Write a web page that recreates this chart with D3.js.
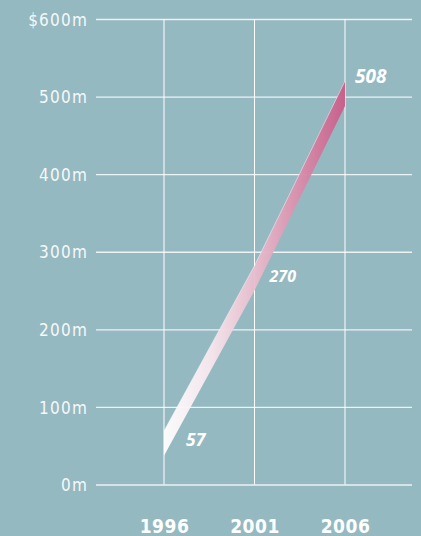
<!DOCTYPE html>
<html>
<head>
<meta charset="utf-8">
<script src="https://cdn.jsdelivr.net/npm/d3@7"></script>
<style>
  html, body { margin: 0; padding: 0; background: #95b9c1; }
  svg { display: block; }
</style>
</head>
<body>
<svg id="chart" width="421" height="536"></svg>
<script>
// Revenue, in $ millions
const years = [1996, 2001, 2006];
const revenue = [57, 270, 508];
const yearLabels = ["1996", "2001", "2006"];
const yTicks = [0, 100, 200, 300, 400, 500, 600];
const yTickLabels = ["0m", "100m", "200m", "300m", "400m", "500m", "$600m"];

// Layout and styling
const W = 421, H = 536;
const plot = { left: 96, right: 412, top: 19, bottom: 484.5 };
const yearPos = { start: 164, end: 345 };
const ribbon = { above: 12, below: 20 };   // ribbon thickness around the value, in $m
const valueLabelStyle = [
  { dx: 22, dy: 6, size: 17.5 },
  { dx: 15, dy: 7, size: 16 },
  { dx: 10, dy: -7, size: 19 }
];
const grid = "#edf2f3";

const svg = d3.select("#chart");

const x = d3.scaleLinear().domain(d3.extent(years)).range([yearPos.start, yearPos.end]);
const y = d3.scaleLinear().domain([0, 600]).range([plot.bottom, plot.top]);

// Horizontal gridlines with dollar labels
const yAxis = d3.axisLeft(y)
  .tickValues(yTicks)
  .tickFormat((d, i) => yTickLabels[i])
  .tickSize(plot.right - plot.left)
  .tickPadding(8);

const gy = svg.append("g")
  .attr("transform", `translate(${plot.right},0)`)
  .call(yAxis);
gy.select(".domain").remove();
gy.selectAll(".tick line").attr("stroke", grid).attr("stroke-width", 1.3);
gy.selectAll(".tick text")
  .attr("fill", "#f5f8f9")
  .attr("font-family", "'DejaVu Sans Condensed', 'DejaVu Sans', sans-serif")
  .attr("font-size", 17)
  .attr("letter-spacing", 1.2)
  .attr("dy", "0.36em");

// Vertical year gridlines
svg.append("g").selectAll("line")
  .data(years)
  .join("line")
  .attr("x1", d => x(d)).attr("x2", d => x(d))
  .attr("y1", plot.top).attr("y2", plot.bottom)
  .attr("stroke", "#ffffff")
  .attr("stroke-width", 1);

// Year labels
const xAxis = d3.axisBottom(x)
  .tickValues(years)
  .tickFormat((d, i) => yearLabels[i])
  .tickSize(0)
  .tickPadding(0);
const gx = svg.append("g")
  .attr("transform", `translate(0,${plot.bottom})`)
  .call(xAxis);
gx.select(".domain").remove();
gx.selectAll(".tick text")
  .attr("fill", "#ffffff")
  .attr("font-family", "'DejaVu Sans Condensed', 'DejaVu Sans', sans-serif")
  .attr("font-weight", "bold")
  .attr("font-size", 19)
  .attr("letter-spacing", 0.5)
  .attr("dy", null)
  .attr("y", 48.5);

// Ribbon gradient: white at the start, deep pink at the end
const defs = svg.append("defs");
const grad = defs.append("linearGradient")
  .attr("id", "ribbonFill")
  .attr("gradientUnits", "userSpaceOnUse")
  .attr("x1", x(years[0])).attr("y1", 0)
  .attr("x2", x(years[years.length - 1])).attr("y2", 0);
grad.append("stop").attr("offset", "0%").attr("stop-color", "#ffffff");
grad.append("stop").attr("offset", "25%").attr("stop-color", "#f8e8ee");
grad.append("stop").attr("offset", "52%").attr("stop-color", "#e8bacb");
grad.append("stop").attr("offset", "100%").attr("stop-color", "#c95c88");

const series = years.map((yr, i) => ({ year: yr, value: revenue[i] }));

const area = d3.area()
  .x(d => x(d.year))
  .y0(d => y(d.value - ribbon.below))
  .y1(d => y(d.value + ribbon.above));

svg.append("path")
  .datum(series)
  .attr("d", area)
  .attr("fill", "url(#ribbonFill)")
  .attr("opacity", 0.95);

// Light edge along the top of the ribbon
svg.append("path")
  .datum(series)
  .attr("d", d3.line().x(d => x(d.year)).y(d => y(d.value + ribbon.above)))
  .attr("fill", "none")
  .attr("stroke", "#ffffff")
  .attr("stroke-opacity", 0.45)
  .attr("stroke-width", 1);

// Value labels
svg.append("g").selectAll("text")
  .data(series)
  .join("text")
  .attr("x", (d, i) => x(d.year) + valueLabelStyle[i].dx)
  .attr("y", (d, i) => y(d.value) + valueLabelStyle[i].dy)
  .attr("fill", "#ffffff")
  .attr("font-family", "'Open Sans', sans-serif")
  .attr("font-weight", "bold")
  .attr("font-style", "italic")
  .attr("font-size", (d, i) => valueLabelStyle[i].size)
  .text(d => d.value);
</script>
</body>
</html>
